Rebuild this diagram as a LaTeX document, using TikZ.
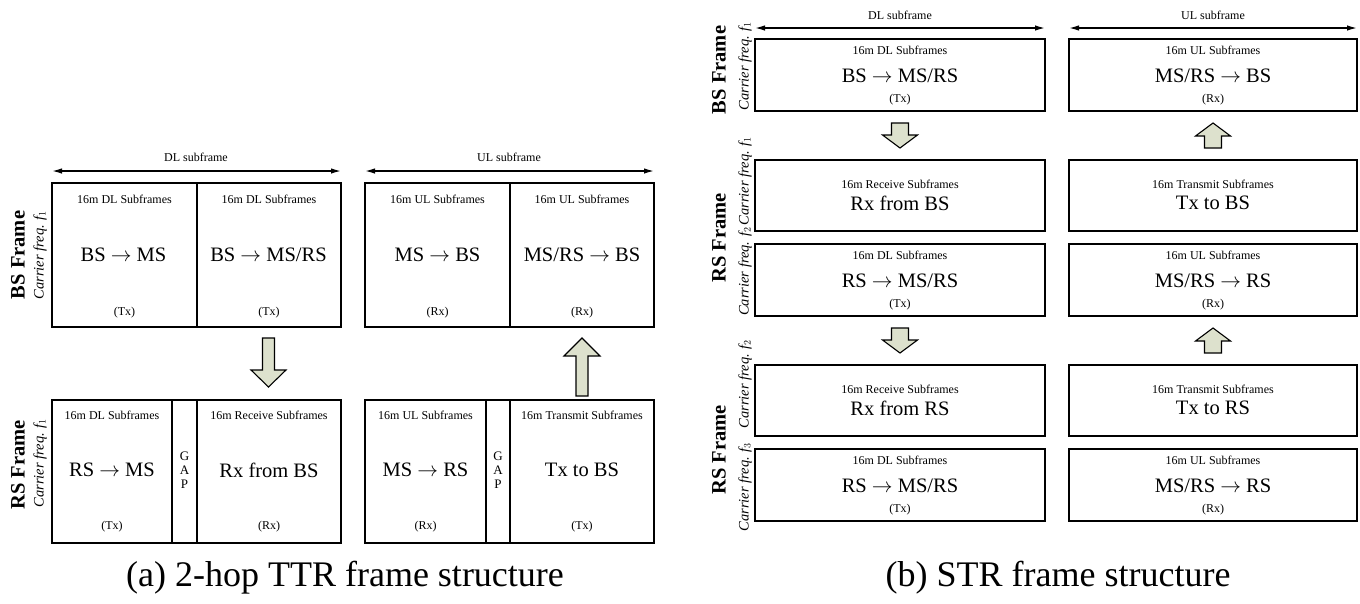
\documentclass[tikz,border=0pt]{standalone}
\usepackage{fontspec}
\setmainfont{Liberation Serif}
\usetikzlibrary{arrows.meta}
\definecolor{arrfill}{RGB}{221,225,205}
\tikzset{
  frm/.style={draw=black, line width=1.7pt},
  sm/.style={font=\fontsize{12}{14}\selectfont, inner sep=0pt},
  bg/.style={font=\fontsize{20.5}{24}\selectfont, inner sep=0pt},
  gapl/.style={font=\fontsize{13}{15}\selectfont, inner sep=0pt},
  frl/.style={font=\bfseries\fontsize{20.5}{24}\selectfont, rotate=90, inner sep=0pt},
  cfl/.style={font=\itshape\fontsize{14.5}{17}\selectfont, rotate=90, inner sep=0pt},
  dim/.style={{Latex[length=10pt,width=5.5pt]}-{Latex[length=10pt,width=5.5pt]}, line width=1.4pt},
  fat/.style={draw=black, fill=arrfill, line width=1.1pt, line join=miter},
  captxt/.style={font=\fontsize{36}{40}\selectfont, inner sep=0pt},
}
\newcommand{\arr}{$\rightarrow$}
\newcommand{\fq}[1]{Carrier freq. \textit{f}$_{#1}$}
\begin{document}
\begin{tikzpicture}[x=1pt,y=-1pt]
\useasboundingbox (0,0) rectangle (1360,603);
% ================= (a) =================
\coordinate (dlA) at (52,171); \coordinate (dlB) at (341,171);
\draw[dim] (dlA) -- (dlB);
\node[sm] (dllab) at (196,157) {DL subframe};
\coordinate (ulA) at (365,171); \coordinate (ulB) at (654,171);
\draw[dim] (ulA) -- (ulB);
\node[sm] (ullab) at (509,157) {UL subframe};
% BS frame boxes
\draw[frm] (52,183) rectangle (341,327);
\draw[frm] (197,183) -- (197,327);
\draw[frm] (365,183) rectangle (654,327);
\draw[frm] (510,183) -- (510,327);
\node[sm] (a11) at (124.5,199) {16m DL Subframes};
\node[bg] (a12) at (123.5,255) {BS \arr\ MS};
\node[sm] (a13) at (124.5,313) {(Tx)};
\node[sm] (a21) at (269,199) {16m DL Subframes};
\node[bg] (a22) at (268.5,255) {BS \arr\ MS/RS};
\node[sm] (a23) at (269,313) {(Tx)};
\node[sm] (a31) at (437.5,199) {16m UL Subframes};
\node[bg] (a32) at (437.5,255) {MS \arr\ BS};
\node[sm] (a33) at (437.5,313) {(Rx)};
\node[sm] (a41) at (582,199) {16m UL Subframes};
\node[bg] (a42) at (582,255) {MS/RS \arr\ BS};
\node[sm] (a43) at (582,313) {(Rx)};
% RS frame boxes
\draw[frm] (52,400) rectangle (341,543);
\draw[frm] (172,400) -- (172,543);
\draw[frm] (197,400) -- (197,543);
\draw[frm] (365,400) rectangle (654,543);
\draw[frm] (486,400) -- (486,543);
\draw[frm] (510,400) -- (510,543);
\node[sm] (b11) at (112,415) {16m DL Subframes};
\node[bg] (b12) at (112,470) {RS \arr\ MS};
\node[sm] (b13) at (112,527) {(Tx)};
\node[gapl, align=center] (bgap1) at (184.5,470) {G\\[-1pt]A\\[-1pt]P};
\node[sm] (b21) at (269,415) {16m Receive Subframes};
\node[bg] (b22) at (269,470) {Rx from BS};
\node[sm] (b23) at (269,527) {(Rx)};
\node[sm] (b31) at (425.5,415) {16m UL Subframes};
\node[bg] (b32) at (425.5,470) {MS \arr\ RS};
\node[sm] (b33) at (425.5,527) {(Rx)};
\node[gapl, align=center] (bgap2) at (498,470) {G\\[-1pt]A\\[-1pt]P};
\node[sm] (b41) at (582,415) {16m Transmit Subframes};
\node[bg] (b42) at (582,470) {Tx to BS};
\node[sm] (b43) at (582,527) {(Tx)};
% frame labels
\node[frl] (lbs) at (18,255) {BS Frame};
\node[cfl] (lbsf) at (40,255) {\fq{1}};
\node[frl] (lrs) at (18,465) {RS Frame};
\node[cfl] (lrsf) at (40,463) {\fq{1}};
% fat arrows
\draw[fat] (262.5,338) -- (274.5,338) -- (274.5,370) -- (286,370) -- (268.5,387) -- (251,370) -- (262.5,370) -- cycle;
\draw[fat] (576,396) -- (588,396) -- (588,356) -- (600,356) -- (582,338) -- (564,356) -- (576,356) -- cycle;
% caption
\node[captxt] (capa) at (345,578) {(a) 2-hop TTR frame structure};
% ================= (b) =================
\coordinate (dlC) at (755,28); \coordinate (dlD) at (1045,28);
\draw[dim] (dlC) -- (dlD);
\node[sm] (dllab2) at (900,15) {DL subframe};
\coordinate (ulC) at (1069,28); \coordinate (ulD) at (1357,28);
\draw[dim] (ulC) -- (ulD);
\node[sm] (ullab2) at (1213,15) {UL subframe};
% rows
\foreach \t in {39,244,449}{
  \draw[frm] (755,\t) rectangle (1045,\t+72);
  \draw[frm] (1069,\t) rectangle (1357,\t+72);
}
\foreach \t in {160,365}{
  \draw[frm] (755,\t) rectangle (1045,\t+71);
  \draw[frm] (1069,\t) rectangle (1357,\t+71);
}
% row 1
\node[sm] (r11) at (900,50) {16m DL Subframes};
\node[bg] (r12) at (900,76) {BS \arr\ MS/RS};
\node[sm] (r13) at (900,100) {(Tx)};
\node[sm] (s11) at (1213,50) {16m UL Subframes};
\node[bg] (s12) at (1213,76) {MS/RS \arr\ BS};
\node[sm] (s13) at (1213,100) {(Rx)};
% row 2
\node[sm] (r21) at (900,184) {16m Receive Subframes};
\node[bg] (r22) at (900,203) {Rx from BS};
\node[sm] (s21) at (1213,184) {16m Transmit Subframes};
\node[bg] (s22) at (1213,203) {Tx to BS};
% row 3
\node[sm] (r31) at (900,255) {16m DL Subframes};
\node[bg] (r32) at (900,281) {RS \arr\ MS/RS};
\node[sm] (r33) at (900,305) {(Tx)};
\node[sm] (s31) at (1213,255) {16m UL Subframes};
\node[bg] (s32) at (1213,281) {MS/RS \arr\ RS};
\node[sm] (s33) at (1213,305) {(Rx)};
% row 4
\node[sm] (r41) at (900,389) {16m Receive Subframes};
\node[bg] (r42) at (900,408) {Rx from RS};
\node[sm] (s41) at (1213,389) {16m Transmit Subframes};
\node[bg] (s42) at (1213,408) {Tx to RS};
% row 5
\node[sm] (r51) at (900,460) {16m DL Subframes};
\node[bg] (r52) at (900,486) {RS \arr\ MS/RS};
\node[sm] (r53) at (900,510) {(Tx)};
\node[sm] (s51) at (1213,460) {16m UL Subframes};
\node[bg] (s52) at (1213,486) {MS/RS \arr\ RS};
\node[sm] (s53) at (1213,510) {(Rx)};
% fat arrows (b)
\foreach \y in {123,328}{
  \draw[fat] (891.5,\y) -- (908.5,\y) -- (908.5,\y+12) -- (917.5,\y+12) -- (900,\y+25) -- (882.5,\y+12) -- (891.5,\y+12) -- cycle;
  \draw[fat] (1204.5,\y+25) -- (1221.5,\y+25) -- (1221.5,\y+13) -- (1230.5,\y+13) -- (1213,\y) -- (1195.5,\y+13) -- (1204.5,\y+13) -- cycle;
}
% labels (b)
\node[frl] (lbs2) at (719,70) {BS Frame};
\node[cfl] (lbs2f) at (745,66) {\fq{1}};
\node[frl] (lrs2) at (719,238) {RS Frame};
\node[cfl] (lrs2f1) at (745,181) {\fq{1}};
\node[cfl] (lrs2f2) at (745,271.5) {\fq{2}};
\node[frl] (lrs3) at (719,450) {RS Frame};
\node[cfl] (lrs3f2) at (745,384) {\fq{2}};
\node[cfl] (lrs3f3) at (745,487) {\fq{3}};
\node[captxt] (capb) at (1058,578) {(b) STR frame structure};
\end{tikzpicture}
\end{document}
